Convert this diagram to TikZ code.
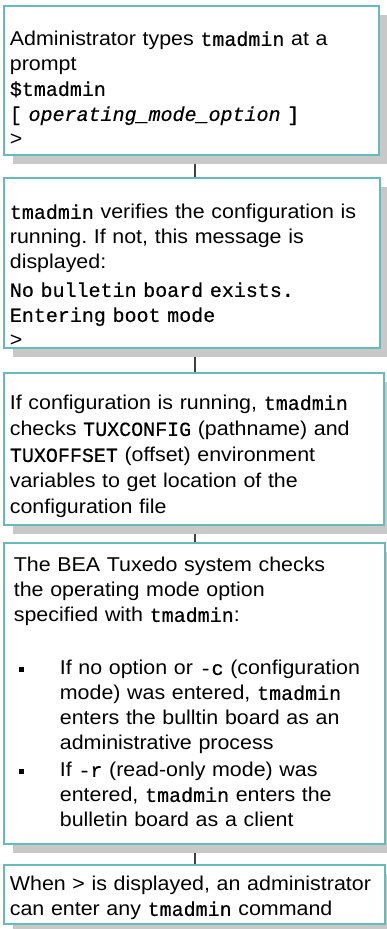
\documentclass[tikz,border=0pt]{standalone}
\usepackage{fontspec}
\setmainfont[FakeStretch=1.07]{Liberation Sans}
\setmonofont[FakeBold=0.4]{Liberation Mono}
\usetikzlibrary{shadows,backgrounds}
\definecolor{boxteal}{RGB}{102,187,184}
\definecolor{shadegray}{RGB}{200,200,200}
\newcommand{\sqbul}{\rule[3pt]{5pt}{5pt}}
\frenchspacing

\begin{document}
\begin{tikzpicture}[x=1pt, y=-1pt,
        stepbox/.style={draw=boxteal, line width=1.8pt, fill=white, anchor=north west,
            inner xsep=6pt, inner ysep=0pt, align=left,
            font=\fontsize{20}{25}\selectfont,
            drop shadow={shadow xshift=9pt, shadow yshift=-9pt, fill=shadegray, opacity=1}},
        link/.style={line width=1.6pt, black!75},
        ]
        \useasboundingbox (0,0) rectangle (386,929);
        \node[stepbox, text width=363pt, text height=40pt, text depth=109pt] (typecmd) at (3,5)
            {Administrator types \texttt{tmadmin} at a\\
            prompt\\
            \texttt{\$tmadmin}\\
            \texttt{[ \textit{operating\_mode\_option} ]}\\
            >};
        \node[stepbox, text width=364pt, text height=41pt, text depth=129pt] (verify) at (3,177)
            {\texttt{tmadmin} verifies the configuration is\\
            running. If not, this message is\\
            displayed:\\[3pt]
            \texttt{No bulletin board exists.}\\
            \texttt{Entering boot mode}\\
            >};
        \node[stepbox, text width=368pt, text height=37pt, text depth=115pt] (checkenv) at (3,372)
            {If configuration is running, \texttt{tmadmin}\\[1pt]
            checks \texttt{TUXCONFIG} (pathname) and\\[1pt]
            \texttt{TUXOFFSET} (offset) environment\\[1pt]
            variables to get location of the\\[1pt]
            configuration file};
        \node[stepbox, text width=369pt, text height=29pt, text depth=272pt] (checkmode) at (3,542)
            {\hspace*{4pt}The BEA Tuxedo system checks\\
            \hspace*{4pt}the operating mode option\\
            \hspace*{4pt}specified with \texttt{tmadmin}:\\[28pt]
            \hspace*{9pt}\sqbul\hspace*{36pt}If no option or \texttt{-c} (configuration\\
            \hspace*{50pt}mode) was entered, \texttt{tmadmin}\\
            \hspace*{50pt}enters the bulltin board as an\\
            \hspace*{50pt}administrative process\\[2pt]
            \hspace*{9pt}\sqbul\hspace*{36pt}If \texttt{-r} (read-only mode) was\\
            \hspace*{50pt}entered, \texttt{tmadmin} enters the\\
            \hspace*{50pt}bulletin board as a client};
        \node[stepbox, text width=369pt, text height=26pt, text depth=33pt] (ready) at (3,864)
            {When > is displayed, an administrator\\
            can enter any \texttt{tmadmin} command};
        \begin{scope}[on background layer]
            \draw[link] ([xshift=3.5pt]typecmd.south) -- ([xshift=3.5pt]typecmd.south |- verify.north);
            \draw[link] ([xshift=3pt]verify.south) -- ([xshift=3pt]verify.south |- checkenv.north);
            \draw[link] ([xshift=1pt]checkenv.south) -- ([xshift=1pt]checkenv.south |- checkmode.north);
            \draw[link] ([xshift=0.5pt]checkmode.south) -- ([xshift=0.5pt]checkmode.south |- ready.north);
        \end{scope}
\end{tikzpicture}
\end{document}
